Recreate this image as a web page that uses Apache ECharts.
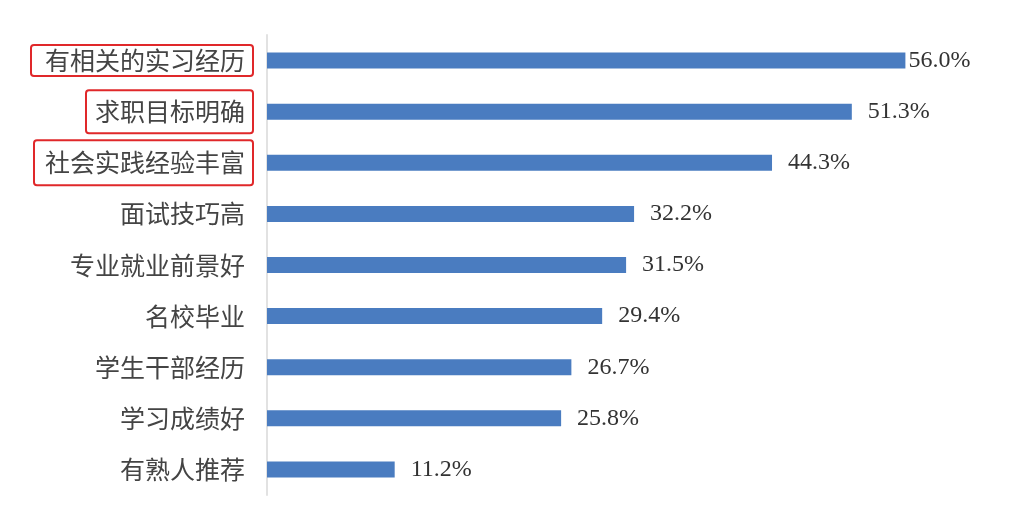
<!DOCTYPE html>
<html>
<head>
<meta charset="utf-8">
<script src="https://cdn.jsdelivr.net/npm/echarts@6/dist/echarts.min.js"></script>
<style>html,body{margin:0;padding:0;background:#fff;}#c{width:1011px;height:520px;}</style>
</head>
<body>
<div id="c"></div>
<script>
const categories = ['有相关的实习经历','求职目标明确','社会实践经验丰富','面试技巧高','专业就业前景好','名校毕业','学生干部经历','学习成绩好','有熟人推荐'];
const values = [56.0, 51.3, 44.3, 32.2, 31.5, 29.4, 26.7, 25.8, 11.2];
const highlighted = ['有相关的实习经历','求职目标明确','社会实践经验丰富'];

const chart = echarts.init(document.getElementById('c'), null, {renderer:'canvas'});
const font = '"Noto Sans CJK SC", sans-serif';
const boxBase = {borderColor:'#e0282a', borderWidth:2, borderRadius:3, fontSize:25, color:'#444', fontFamily:font};
const boxPads = [[3,8,3,14],[9,8,9,9],[10,8,10,11]];
const rich = {plain:{padding:[0,8,0,0], fontSize:25, color:'#444', fontFamily:font}};
boxPads.forEach((p,i)=>{ rich['b'+i] = Object.assign({}, boxBase, {padding:p}); });

chart.setOption({
  animation:false,
  grid:{left:267, right:60, top:35, bottom:25, containLabel:false},
  xAxis:{type:'value', min:0, max:60, show:false, splitLine:{show:false}},
  yAxis:{
    type:'category', inverse:true, data:categories,
    axisLine:{show:true, lineStyle:{color:'#e2e2e2', width:2}},
    axisTick:{show:false},
    axisLabel:{
      margin:14,
      formatter:function(v){
        const k = highlighted.indexOf(v);
        return k>=0 ? '{b'+k+'|'+v+'}' : '{plain|'+v+'}';
      },
      rich:rich
    }
  },
  series:[{
    type:'bar', barWidth:16,
    itemStyle:{color:'#4a7cc0'},
    data: values.map((v,i)=> i===0 ? {value:v, label:{distance:3}} : v),
    label:{show:true, position:'right', distance:16,
      formatter:function(p){return p.value.toFixed(1)+'%';},
      fontFamily:'"Liberation Serif", serif', fontSize:24, color:'#333'}
  }]
});
</script>
</body>
</html>
